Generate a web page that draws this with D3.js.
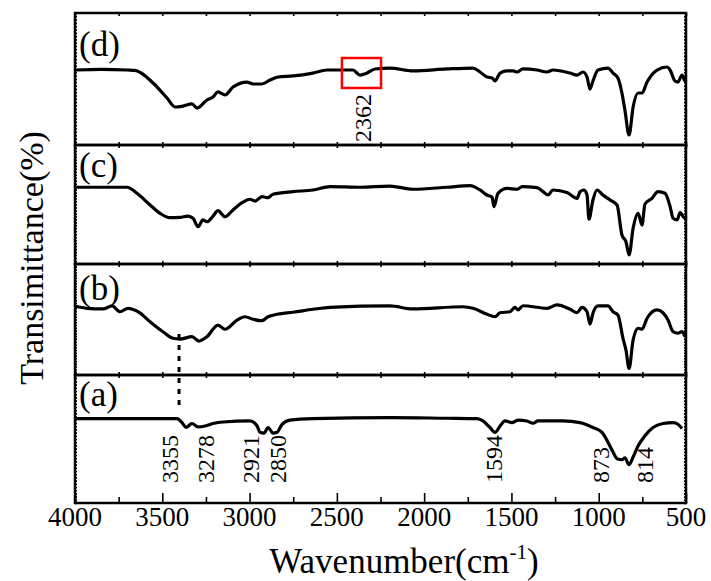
<!DOCTYPE html>
<html>
<head>
<meta charset="utf-8">
<script src="https://cdn.jsdelivr.net/npm/d3@7"></script>
<style>
  body { margin: 0; background: #fff; }
  text { font-family: "Liberation Serif", "Times New Roman", serif; fill: #000; }
</style>
</head>
<body>
<div class="ftir-chart"></div>
<script>
// x axis ticks (wavenumber, cm-1)
const majorTicks = [4000, 3500, 3000, 2500, 2000, 1500, 1000, 500];
const minorTicks = [3750, 3250, 2750, 2250, 1750, 1250, 750];

// panel labels, top to bottom
const panelNames = ["(d)", "(c)", "(b)", "(a)"];

// spectra: [wavenumber, transmittance % (relative, within its own panel)]
const spectrumD = [
  [4000, 56.8], [3850, 57.3], [3700, 56.8], [3656, 56.5], [3553, 47.0], [3473, 35.6],
  [3427, 28.8], [3381, 29.5], [3330, 31.1], [3301, 28.0], [3244, 34.1], [3209, 36.4],
  [3181, 40.2], [3141, 37.9], [3095, 43.9], [3015, 47.7], [2980, 46.2], [2929, 46.2],
  [2883, 49.2], [2837, 51.5], [2751, 52.3], [2637, 54.5], [2556, 56.8], [2408, 56.8],
  [2367, 53.0], [2327, 54.5], [2281, 57.6], [2196, 58.3], [2064, 56.1], [1869, 57.6],
  [1720, 58.3], [1680, 55.3], [1640, 51.5], [1611, 50.8], [1594, 48.5], [1565, 54.5],
  [1525, 56.1], [1490, 56.1], [1468, 55.3], [1434, 57.6], [1354, 56.8], [1296, 55.3],
  [1262, 56.8], [1164, 54.5], [1124, 53.0], [1090, 55.3], [1067, 51.5], [1050, 42.4],
  [1033, 48.5], [1004, 56.8], [947, 58.3], [918, 54.5], [890, 50.8], [867, 39.4],
  [850, 26.5], [826, 7.6], [803, 28.8], [774, 39.4], [752, 39.4], [723, 47.7],
  [666, 56.8], [609, 59.1], [591, 56.8], [563, 48.5], [546, 47.7], [523, 53.0],
  [506, 48.5], [500, 48.0]
];

const spectrumC = [
  [4000, 64.5], [3702, 64.5], [3645, 59.4], [3570, 49.6], [3513, 42.6], [3456, 38.9],
  [3399, 39.2], [3353, 40.3], [3324, 38.4], [3295, 31.3], [3267, 37.0], [3244, 35.5],
  [3209, 40.3], [3181, 44.8], [3141, 39.7], [3095, 45.4], [3043, 51.5], [2998, 54.4],
  [2969, 52.9], [2929, 56.6], [2894, 55.7], [2866, 58.6], [2751, 60.8], [2637, 62.2],
  [2539, 65.0], [2367, 64.5], [2196, 65.5], [2064, 62.8], [1869, 64.5], [1737, 65.8],
  [1680, 62.2], [1640, 58.0], [1611, 56.1], [1600, 48.2], [1577, 59.4], [1525, 63.6],
  [1468, 62.8], [1439, 65.0], [1354, 64.2], [1319, 60.8], [1290, 58.0], [1262, 62.2],
  [1182, 60.0], [1124, 55.2], [1107, 60.8], [1084, 62.2], [1067, 58.0], [1056, 37.6],
  [1033, 53.8], [1010, 62.2], [976, 58.0], [935, 53.8], [895, 49.6], [867, 24.4],
  [844, 18.7], [826, 7.6], [803, 30.0], [774, 42.6], [752, 32.8], [735, 50.4],
  [695, 55.2], [660, 60.8], [620, 59.4], [591, 48.2], [574, 38.4], [551, 37.0],
  [534, 43.1], [506, 38.4], [500, 40.0]
];

const spectrumB = [
  [4000, 62.2], [3931, 60.1], [3840, 59.5], [3788, 62.2], [3742, 57.0], [3696, 60.1],
  [3639, 57.0], [3570, 48.0], [3496, 39.0], [3439, 33.1], [3399, 32.4], [3330, 34.5],
  [3290, 30.6], [3244, 34.5], [3181, 45.0], [3141, 41.2], [3072, 49.5], [3026, 52.5],
  [2980, 50.2], [2929, 48.9], [2894, 52.5], [2843, 54.7], [2751, 56.5], [2637, 59.2],
  [2539, 61.0], [2196, 62.2], [2064, 59.5], [1777, 61.5], [1720, 60.1], [1640, 54.7],
  [1594, 52.5], [1565, 56.1], [1508, 57.0], [1480, 61.0], [1462, 58.6], [1434, 62.4],
  [1296, 60.1], [1239, 63.1], [1164, 59.2], [1124, 56.1], [1096, 61.0], [1067, 57.0],
  [1050, 45.9], [1033, 55.6], [1004, 62.2], [947, 62.2], [918, 57.0], [890, 54.1],
  [861, 33.1], [844, 22.5], [826, 6.0], [803, 31.5], [774, 42.1], [752, 41.2],
  [723, 51.1], [666, 58.6], [632, 56.1], [603, 49.5], [574, 39.0], [546, 37.6],
  [523, 39.0], [506, 34.5]
];

const spectrumA = [
  [4000, 65.9], [3416, 65.9], [3387, 62.8], [3364, 59.0], [3330, 62.1], [3295, 59.5],
  [3255, 60.2], [3209, 62.1], [3152, 63.3], [2998, 64.1], [2957, 60.2], [2940, 55.2],
  [2917, 54.6], [2894, 59.0], [2866, 54.6], [2843, 55.2], [2814, 61.5], [2768, 64.8],
  [2637, 65.9], [2196, 66.7], [1869, 66.2], [1697, 65.9], [1663, 64.1], [1623, 59.0],
  [1594, 55.2], [1565, 60.2], [1537, 64.1], [1497, 62.8], [1462, 64.8], [1411, 64.1],
  [1376, 62.3], [1348, 64.1], [1205, 64.1], [1107, 62.8], [1033, 59.0], [981, 55.2],
  [947, 47.5], [918, 39.8], [895, 34.6], [867, 33.8], [850, 35.2], [826, 30.0],
  [803, 35.9], [774, 44.8], [735, 52.5], [689, 59.0], [632, 62.1], [574, 62.8],
  [546, 61.5], [523, 58.2]
];

// peak annotations in (a): label text and wavenumber where the label sits
const peakLabels = ["3355", "3278", "2921", "2850", "1594", "873", "814"];
const peakLabelAt = [3456, 3250, 2992, 2837, 1600, 987, 735];

// CO2 band marked in (d)
const boxLabel = "2362";
const boxLabelAt = 2350;
const boxRange = [2471, 2247];      // wavenumber span of the red box
const boxTrans = [65.9, 43.2];      // transmittance span of the red box

// dotted guide from (b) down to (a)
const guideWave = 3404;

const spectra = [spectrumD, spectrumC, spectrumB, spectrumA];

// ---- layout
const W = 711, H = 581;
const left = 75, right = 686;
const edges = [13, 145, 264, 375, 503];   // panel borders, top to bottom
const labelBase = [56, 177, 300, 406];    // baseline of each panel label
const serif = "'Liberation Serif', 'Times New Roman', serif";

const svg = d3.select(".ftir-chart")
  .append("svg")
  .attr("width", W)
  .attr("height", H);

const x = d3.scaleLinear().domain([4000, 500]).range([left, right]);

const panelY = panelNames.map((n, i) =>
  d3.scaleLinear().domain([0, 100]).range([edges[i + 1], edges[i]]));

const line = (y) => d3.line()
  .x(d => x(d[0]))
  .y(d => y(d[1]))
  .curve(d3.curveMonotoneX);

// panels
panelNames.forEach((name, i) => {
  const y = panelY[i];
  const g = svg.append("g");
  const isBottom = i === panelNames.length - 1;

  // top border ticks pointing down
  g.append("g")
    .attr("transform", `translate(0,${edges[i]})`)
    .call(d3.axisBottom(x).tickValues(majorTicks.concat(minorTicks)).tickSize(3).tickFormat(""))
    .call(s => s.select(".domain").remove());

  // bottom border ticks pointing up
  if (isBottom) {
    g.append("g")
      .attr("transform", `translate(0,${edges[i + 1]})`)
      .call(d3.axisTop(x).tickValues(majorTicks).tickSize(10).tickFormat(""))
      .call(s => s.select(".domain").remove());
    g.append("g")
      .attr("transform", `translate(0,${edges[i + 1]})`)
      .call(d3.axisTop(x).tickValues(minorTicks).tickSize(6).tickFormat(""))
      .call(s => s.select(".domain").remove());
  } else {
    g.append("g")
      .attr("transform", `translate(0,${edges[i + 1]})`)
      .call(d3.axisTop(x).tickValues(majorTicks.concat(minorTicks)).tickSize(3).tickFormat(""))
      .call(s => s.select(".domain").remove());
  }

  // dense y ticks, left and right
  g.append("g")
    .attr("transform", `translate(${left},0)`)
    .call(d3.axisRight(y).tickValues(d3.range(0, 100, 2.5)).tickSize(2).tickFormat(""))
    .call(s => s.select(".domain").remove());
  g.append("g")
    .attr("transform", `translate(${right},0)`)
    .call(d3.axisLeft(y).tickValues(d3.range(0, 100, 2.5)).tickSize(2).tickFormat(""))
    .call(s => s.select(".domain").remove());

  g.selectAll(".tick line").attr("stroke", "#000").attr("stroke-width", 1.6);

  // frame
  g.append("rect")
    .attr("x", left)
    .attr("y", edges[i])
    .attr("width", right - left)
    .attr("height", edges[i + 1] - edges[i])
    .attr("fill", "none")
    .attr("stroke", "#000")
    .attr("stroke-width", 2.5);

  // spectrum
  g.append("path")
    .datum(spectra[i])
    .attr("fill", "none")
    .attr("stroke", "#000")
    .attr("stroke-width", 3.2)
    .attr("stroke-linejoin", "round")
    .attr("d", line(y));

  // panel label
  g.append("text")
    .attr("x", left + 4)
    .attr("y", labelBase[i])
    .attr("font-family", serif)
    .style("font-size", "35px")
    .text(name);
});

// x tick labels
svg.append("g")
  .selectAll("text")
  .data(majorTicks)
  .join("text")
  .attr("x", d => x(d))
  .attr("y", edges[4] + 23)
  .attr("text-anchor", "middle")
  .attr("font-family", serif)
  .style("font-size", "27px")
  .text(d => d);

// axis titles
const xTitle = svg.append("text")
  .attr("x", 404)
  .attr("y", 573)
  .attr("text-anchor", "middle")
  .attr("font-family", serif)
  .style("font-size", "35px");
xTitle.append("tspan").text("Wavenumber(cm");
xTitle.append("tspan").attr("dy", -14).style("font-size", "21px").text("-1");
xTitle.append("tspan").attr("dy", 14).text(")");

svg.append("text")
  .attr("transform", `translate(43,${(edges[0] + edges[4]) / 2}) rotate(-90)`)
  .attr("text-anchor", "middle")
  .attr("font-family", serif)
  .style("font-size", "34px")
  .text("Transimittance(%)");

// peak labels in (a)
svg.append("g")
  .selectAll("text")
  .data(peakLabels)
  .join("text")
  .attr("transform", (d, i) => `translate(${x(peakLabelAt[i])},483) rotate(-90)`)
  .attr("dominant-baseline", "central")
  .attr("font-family", serif)
  .style("font-size", "24px")
  .text(d => d);

// red box and label in (d)
const yd = panelY[0];
svg.append("rect")
  .attr("x", x(boxRange[0]))
  .attr("y", yd(boxTrans[0]))
  .attr("width", x(boxRange[1]) - x(boxRange[0]))
  .attr("height", yd(boxTrans[1]) - yd(boxTrans[0]))
  .attr("fill", "none")
  .attr("stroke", "#f00")
  .attr("stroke-width", 2.5);

svg.append("text")
  .attr("transform", `translate(${x(boxLabelAt)},142) rotate(-90)`)
  .attr("dominant-baseline", "central")
  .attr("font-family", serif)
  .style("font-size", "24px")
  .text(boxLabel);

// dotted guide line between (b) and (a)
svg.append("line")
  .attr("x1", x(guideWave))
  .attr("x2", x(guideWave))
  .attr("y1", panelY[2](37))
  .attr("y2", panelY[3](76))
  .attr("stroke", "#000")
  .attr("stroke-width", 3)
  .attr("stroke-dasharray", "5,6");
</script>
</body>
</html>
